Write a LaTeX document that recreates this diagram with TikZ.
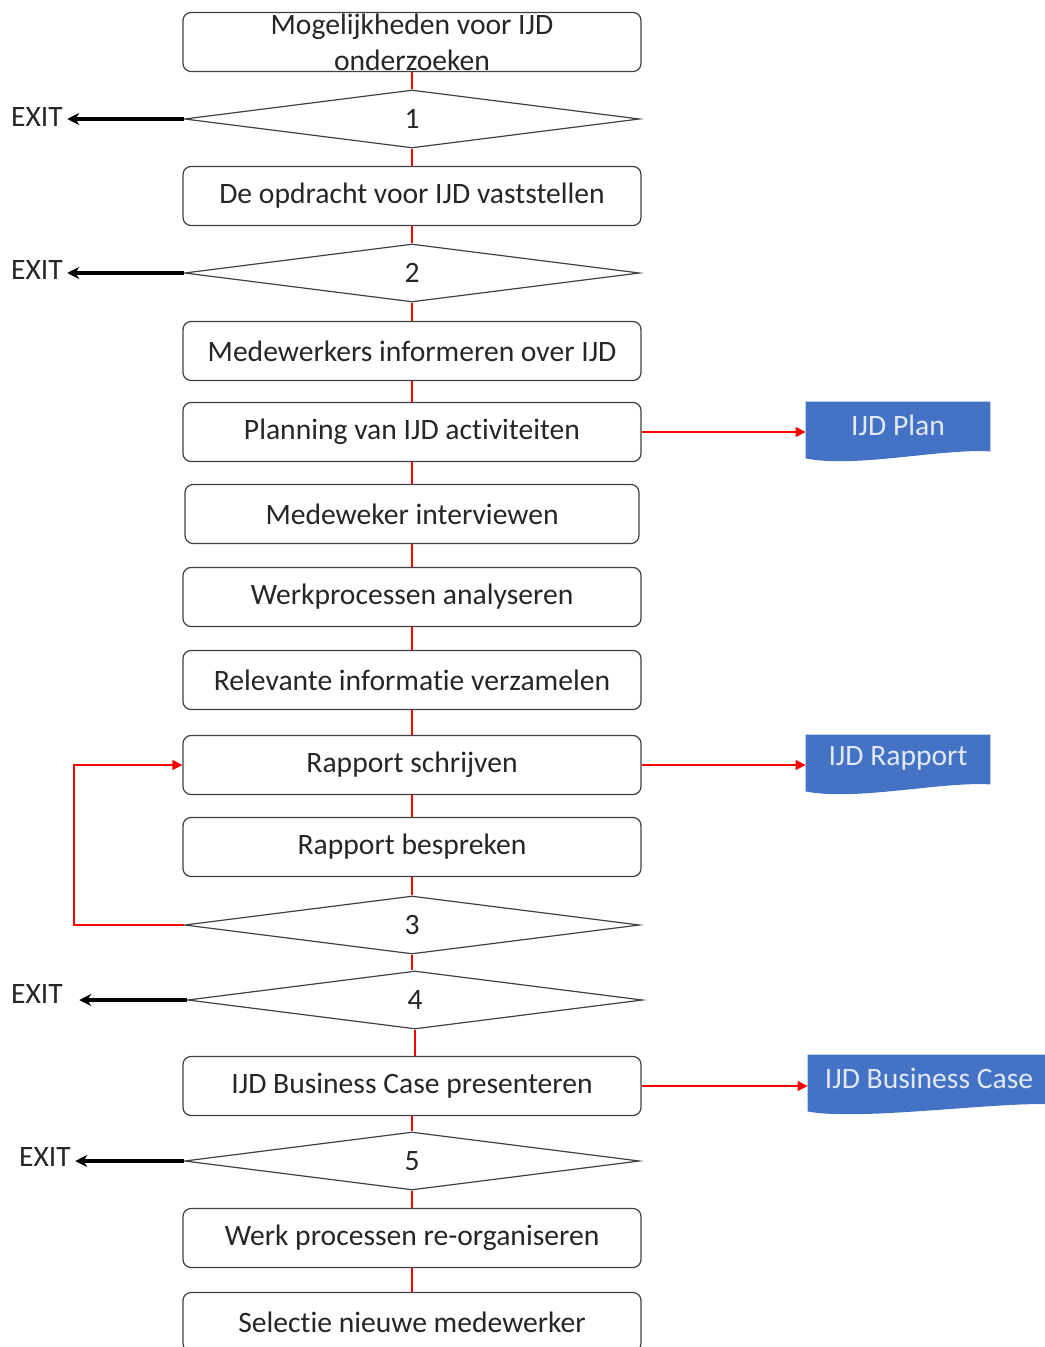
\documentclass[tikz,border=0pt]{standalone}
\usepackage{fontspec}
\setmainfont{Carlito}[Ligatures=NoCommon]
\usepackage{tikz}
\usetikzlibrary{calc,shapes.geometric,arrows.meta,backgrounds}
\definecolor{boxgray}{RGB}{ 64, 64, 64 }
\definecolor{docblue}{RGB}{ 68, 114, 196 }
\definecolor{doclight}{RGB}{ 226, 233, 246 }
\definecolor{flowred}{RGB}{ 255, 0, 0 }
\newcommand{\raisedlabel}[1]{\raisebox{3.5pt}[\height][\depth]{#1}}

\begin{document}
\begin{tikzpicture}[x=0.5pt,y=-0.5pt,font=\fontsize{14.8}{18}\selectfont]
\tikzstyle{step node}=[rectangle,draw=boxgray,rounded corners=4pt,line width=0.6pt,minimum width=229pt,minimum height=29.5pt,inner sep=0,align=center,text=black!85]
\tikzstyle{gate node}=[diamond,draw=boxgray,line width=0.6pt,aspect=7.8,minimum width=227.5pt,minimum height=29pt,inner sep=0,text=black!85]
\tikzstyle{doc node}=[minimum width=92pt,minimum height=30pt,inner sep=0,text=doclight]
\tikzstyle{exit node}=[inner xsep=2pt,text=black!85]
\tikzstyle{flow line}=[flowred,line width=0.6pt]
\tikzstyle{flow arrow}=[flow line,-{Triangle[length=5pt,width=5pt]}]
\tikzstyle{exit arrow}=[black,line width=2pt,-{Stealth[length=6pt,width=6pt]}]

\useasboundingbox (0,0) rectangle (1044,1347);

% main steps
\node(b1)[step node] at (412,42) {Mogelijkheden voor IJD\\onderzoeken};
\node(d1)[gate node] at (412,119) {1};
\node(b2)[step node] at (412,196) {De opdracht voor IJD vaststellen};
\node(d2)[gate node] at (412,273) {2};
\node(b3)[step node] at (412,351) {Medewerkers informeren over IJD};
\node(b4)[step node] at (412,432) {Planning van IJD activiteiten};
\node(b5)[step node,minimum width=227pt] at (412,514) {Medeweker interviewen};
\node(b6)[step node] at (412,597) {Werkprocessen analyseren};
\node(b7)[step node] at (412,680) {Relevante informatie verzamelen};
\node(b8)[step node] at (412,765) {Rapport schrijven};
\node(b9)[step node] at (412,847) {Rapport bespreken};
\node(d3)[gate node] at (412,925) {3};
\node(d4)[gate node] at (415,1000) {4};
\node(b10)[step node] at (412,1086) {IJD Business Case presenteren};
\node(d5)[gate node] at (412,1161) {5};
\node(b11)[step node] at (412,1238) {Werk processen re-organiseren};
\node(b12)[step node] at (412,1322) {Selectie nieuwe medewerker};

% products
\node(plan)[doc node] at (898,432) {\raisedlabel{IJD Plan}};
\node(rapport)[doc node] at (898,765) {\raisedlabel{IJD Rapport}};
\node(bcase)[doc node,minimum width=121pt] at (929,1085) {\raisedlabel{IJD Business Case}};
\begin{scope}[on background layer]
\foreach \d in {plan,rapport,bcase}
  \fill[docblue] (\d.north west) -- (\d.north east) -- ($(\d.south east)+(0,-11)$)
    .. controls ($(\d.south east)+(-50,-14)$) and ($(\d.south west)+(50,6)$) .. ($(\d.south west)+(0,-4)$) -- cycle;
\end{scope}

% exits
\node(x1)[exit node] at (37,117) {EXIT};
\node(x2)[exit node] at (37,270) {EXIT};
\node(x4)[exit node] at (37,994) {EXIT};
\node(x5)[exit node] at (45,1157) {EXIT};

% flow
\foreach \a/\b in {b1/d1,d1/b2,b2/d2,d2/b3,b3/b4,b4/b5,b5/b6,b6/b7,b7/b8,b8/b9,b9/d3,d3/d4,d4/b10,b10/d5,d5/b11,b11/b12}
  \draw[flow line] (\a.south) -- (\a.south |- \b.north);
\draw[flow arrow] (b4.east) -- (plan.west);
\draw[flow arrow] (b8.east) -- (rapport.west);
\draw[flow arrow] (b10.east) -- (b10.east -| bcase.west);
% back to writing
\draw[flow arrow] (d3.west) -- ++(-110,0) |- (b8.west);

\draw[exit arrow] (d1.west) -- (d1.west -| x1.east);
\draw[exit arrow] (d2.west) -- (d2.west -| x2.east);
\draw[exit arrow,shorten >=6pt] (d4.west) -- (d4.west -| x4.east);
\draw[exit arrow] (d5.west) -- (d5.west -| x5.east);

\end{tikzpicture}
\end{document}
